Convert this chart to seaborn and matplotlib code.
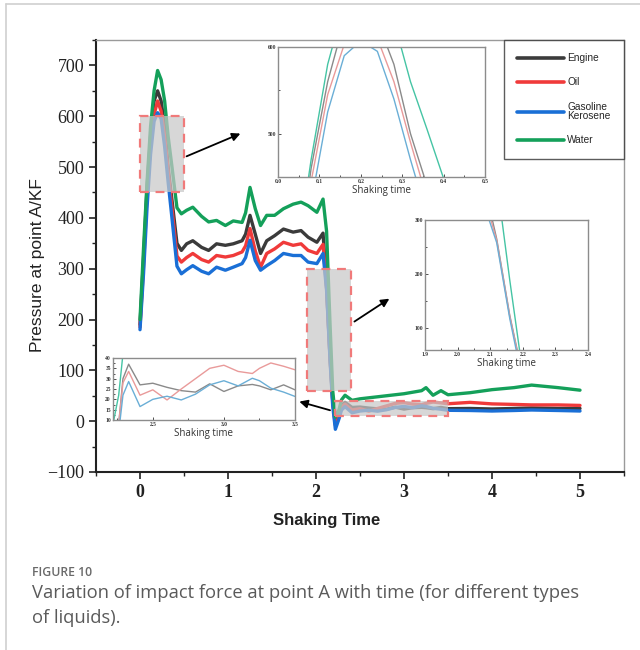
import numpy as np
import pandas as pd
import seaborn as sns
import matplotlib
matplotlib.use("Agg")
import matplotlib.pyplot as plt
from matplotlib.patches import Rectangle
from matplotlib.lines import Line2D
from matplotlib.ticker import AutoMinorLocator

# ---------------- data ----------------
time = [0.00, 0.04, 0.08, 0.12, 0.16, 0.20, 0.24, 0.28, 0.32, 0.36,
        0.42, 0.47, 0.53, 0.60, 0.70, 0.78, 0.87, 0.97, 1.06, 1.16,
        1.20, 1.25, 1.31, 1.37, 1.44, 1.53, 1.63, 1.74, 1.83, 1.91,
        2.01, 2.08, 2.12, 2.16, 2.19, 2.22, 2.26, 2.29, 2.33, 2.41,
        2.50, 2.60, 2.70, 2.80, 2.90, 3.00, 3.10, 3.20, 3.25, 3.33,
        3.42, 3.50, 3.75, 4.00, 4.25, 4.45, 4.75, 5.00]

engine = [190, 320, 460, 560, 630, 650, 630, 580, 500, 440,
          350, 336, 349, 355, 342, 336, 349, 346, 349, 355,
          368, 405, 368, 330, 355, 365, 378, 372, 375, 362,
          352, 370, 265, 124, 40, -5, 8, 30, 37, 27,
          27.8, 25.8, 24.2, 23.5, 27.5, 23.8, 26.5, 27.2, 26.5, 24.6,
          27, 24.6, 25, 24, 25, 26, 25, 25]

oil = [185, 305, 445, 545, 603, 630, 610, 560, 490, 425,
       325, 313, 322, 330, 318, 313, 326, 323, 326, 333,
       345, 379, 335, 303, 330, 339, 352, 346, 349, 336,
       330, 348, 262, 122, 38, -8, 8, 28, 33.5, 22,
       24.6, 19.7, 25, 30, 35, 36.5, 33.5, 32.5, 35, 37.6,
       36, 34.3, 37, 34, 33, 32, 32, 31]

gasoline = [180, 290, 420, 525, 590, 607, 595, 540, 470, 405,
            305, 290, 298, 306, 295, 290, 303, 297, 303, 310,
            322, 356, 316, 297, 306, 316, 330, 326, 326, 313,
            310, 330, 258, 118, 30, -16, 4, 22, 28.6, 16.5,
            20, 21.5, 19.7, 22.5, 27, 29, 26.5, 30.2, 29, 25.4,
            23.5, 21.4, 21, 20, 21, 22, 21, 20]

water = [200, 340, 470, 580, 650, 690, 672, 630, 560, 505,
         420, 408, 415, 421, 403, 392, 395, 385, 394, 391,
         410, 460, 418, 385, 405, 405, 418, 427, 431, 424,
         411, 437, 374, 189, 60, 8, 22, 42, 51, 41,
         44, 46, 48, 50, 52, 54, 57, 60, 66, 51,
         60, 52, 56, 62, 66, 71, 66, 61]

liquids = ["Engine", "Oil", "Gasoline\nKerosene", "Water"]
series = [engine, oil, gasoline, water]
main_colors = ["#3b3b3b", "#f03a3a", "#1a6fd6", "#14a05a"]
inset_colors = ["#8a8a8a", "#e99a9a", "#6aaed6", "#45c4a4"]

x_ticks = [0, 1, 2, 3, 4, 5]
y_ticks = [-100, 0, 100, 200, 300, 400, 500, 600, 700]

# zoom windows (x range, y range)
zoom1 = ([0.0, 0.5], [450, 600])
zoom2 = ([1.9, 2.4], [60, 300])
zoom3 = ([2.22, 3.5], [10, 40])

rows = []
for name, vals in zip(liquids, series):
    for t, v in zip(time, vals):
        rows.append({"time": t, "value": v, "liquid": name})
df = pd.DataFrame(rows)

# ---------------- figure ----------------
sns.set_theme(style="ticks")
plt.rcParams["font.family"] = ["DejaVu Sans"]
W, H = 640, 650
fig = plt.figure(figsize=(6.4, 6.5), dpi=100)

def fx(px):
    return px / W

def fy(py):
    return 1 - py / H

ax = fig.add_axes([fx(96), fy(472), (624 - 96) / W, (472 - 40) / H])
sns.lineplot(data=df, x="time", y="value", hue="liquid", hue_order=liquids,
             palette=dict(zip(liquids, main_colors)), linewidth=2.4,
             estimator=None, sort=False, ax=ax, legend=False)
ax.set_xlim(-0.5, 5.5)
ax.set_ylim(-100, 750)
ax.set_xticks(x_ticks)
ax.set_yticks(y_ticks)
ax.set_xticklabels([str(v) for v in x_ticks], family="Liberation Serif",
                   fontsize=13, fontweight="bold")
ax.set_yticklabels([str(v).replace("-", "\u2212") for v in y_ticks],
                   family="Liberation Serif", fontsize=13)
ax.xaxis.set_minor_locator(AutoMinorLocator(2))
ax.yaxis.set_minor_locator(AutoMinorLocator(2))
ax.tick_params(which="major", direction="out", length=5, width=1.2, colors="#222")
ax.tick_params(which="minor", direction="out", length=3, width=1.0, colors="#222")
for s in ["left", "bottom"]:
    ax.spines[s].set_color("#222")
    ax.spines[s].set_linewidth(1.5)
for s in ["top", "right"]:
    ax.spines[s].set_color("#9a9a9a")
    ax.spines[s].set_linewidth(1.0)
ax.set_xlabel("Shaking Time", family="Liberation Sans", fontsize=12,
              fontweight="bold", color="#222")
ax.xaxis.set_label_coords((327 - 96) / 528, -0.095)
ax.set_ylabel("Pressure at point A/KF", family="Liberation Sans", fontsize=12.5,
              color="#222")
ax.yaxis.set_label_coords(-0.097, 0.48)

# legend
handles = [Line2D([0], [0], color=c, lw=2.6) for c in main_colors]
leg = ax.legend(handles, liquids, loc="upper right", bbox_to_anchor=(1.0, 1.0),
                fontsize=7.3, handlelength=4.6, handletextpad=0.35,
                labelspacing=1.4, borderpad=1.3, borderaxespad=0.0,
                frameon=True, fancybox=False)
leg.get_frame().set_edgecolor("#333")
leg.get_frame().set_linewidth(1.0)
for txt in leg.get_texts():
    txt.set_family("Liberation Sans")
    txt.set_linespacing(0.95)

# highlight boxes
for (xr, yr) in [zoom1, zoom2, zoom3]:
    ax.add_patch(Rectangle((xr[0], yr[0]), xr[1] - xr[0], yr[1] - yr[0],
                           facecolor="#c8c8c8", alpha=0.72, edgecolor="none",
                           zorder=4))
    ax.add_patch(Rectangle((xr[0], yr[0]), xr[1] - xr[0], yr[1] - yr[0],
                           facecolor="none", edgecolor="#f07a7a", lw=1.6,
                           linestyle=(0, (4, 3)), zorder=5))

# arrows
arrow_kw = dict(arrowstyle="-|>", color="black", lw=1.3, mutation_scale=12)
ax.annotate("", xy=(1.17, 568), xytext=(0.5, 519), arrowprops=arrow_kw, zorder=6)
ax.annotate("", xy=(2.86, 244), xytext=(2.41, 193), arrowprops=arrow_kw, zorder=6)
ax.annotate("", xy=(1.78, 40), xytext=(2.19, 20), arrowprops=arrow_kw,
            annotation_clip=False, zorder=6)

# ---------------- insets ----------------
def make_inset(rect, zoom, xticks, xlabels, yticks, ylabels):
    iax = fig.add_axes(rect)
    sns.lineplot(data=df, x="time", y="value", hue="liquid", hue_order=liquids,
                 palette=dict(zip(liquids, inset_colors)), linewidth=1.0,
                 estimator=None, sort=False, ax=iax, legend=False)
    iax.set_xlim(*zoom[0])
    iax.set_ylim(*zoom[1])
    iax.set_xticks(xticks)
    iax.set_xticklabels(xlabels, fontsize=4, family="Liberation Serif",
                        fontweight="bold")
    iax.set_yticks(yticks)
    iax.set_yticklabels(ylabels, fontsize=4, family="Liberation Serif",
                        fontweight="bold")
    iax.xaxis.set_minor_locator(AutoMinorLocator(2))
    iax.yaxis.set_minor_locator(AutoMinorLocator(2))
    iax.tick_params(which="both", direction="in", length=2, width=0.6,
                    pad=1.5, colors="#333", top=False, right=False)
    iax.tick_params(which="minor", length=1.2)
    for s in iax.spines.values():
        s.set_color("#8c8c8c")
        s.set_linewidth(1.0)
    iax.set_xlabel("Shaking time", family="Open Sans", fontsize=7,
                   color="#333", labelpad=1)
    iax.set_ylabel("")
    iax.set_facecolor("white")
    return iax

make_inset([fx(278), fy(177), 207 / W, 130 / H], zoom1,
           [0.0, 0.1, 0.2, 0.3, 0.4, 0.5],
           ["0.0", "0.1", "0.2", "0.3", "0.4", "0.5"],
           [500, 600], ["500", "600"])
make_inset([fx(425), fy(350), 163 / W, 130 / H], zoom2,
           [1.9, 2.0, 2.1, 2.2, 2.3, 2.4],
           ["1.9", "2.0", "2.1", "2.2", "2.3", "2.4"],
           [100, 200, 300], ["100", "200", "300"])
make_inset([fx(113), fy(420), 182 / W, 62 / H], zoom3,
           [2.5, 3.0, 3.5], ["2.5", "3.0", "3.5"],
           [10, 15, 20, 25, 30, 35, 40],
           ["10", "15", "20", "25", "30", "35", "40"])

# ---------------- page frame & caption ----------------
fig.add_artist(Line2D([fx(6), 1.0], [fy(4), fy(4)], color="#cfcfcf", lw=1.2))
fig.add_artist(Line2D([fx(6), fx(6)], [0.0, fy(4)], color="#cfcfcf", lw=1.2))

fig.text(fx(32), fy(572), "FIGURE 10", family="Open Sans", fontsize=8.8,
         fontweight="semibold", color="#6a6a6a", va="center", ha="left")
fig.text(fx(32), fy(593),
         "Variation of impact force at point A with time (for different types",
         family="Open Sans", fontsize=13.2, color="#5a5a5a", va="center", ha="left")
fig.text(fx(32), fy(618), "of liquids).", family="Open Sans", fontsize=13.2,
         color="#5a5a5a", va="center", ha="left")

fig.savefig("out.png", dpi=100, facecolor="white")
